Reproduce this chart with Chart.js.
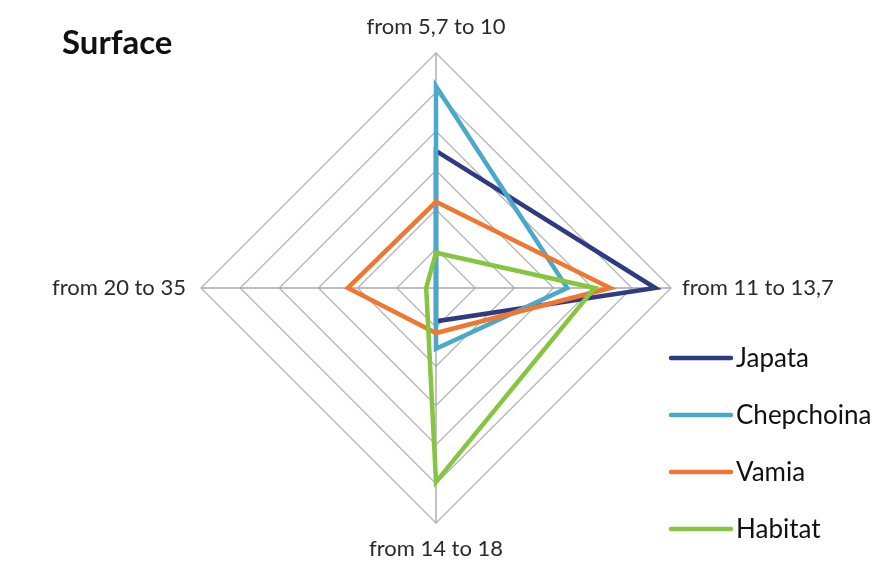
<!DOCTYPE html>
<html>
<head>
<meta charset="utf-8">
<script src="https://cdn.jsdelivr.net/npm/chart.js@4/dist/chart.umd.min.js"></script>
<style>
  html, body { margin: 0; padding: 0; background: #fff; }
  #wrap { position: relative; width: 892px; height: 564px; }
</style>
</head>
<body>
<div id="wrap"><canvas id="myChart"></canvas></div>
<script>
// Surface radar

const titleText = 'Surface';
const labels = ['from 5,7 to 10', 'from 11 to 13,7', 'from 14 to 18', 'from 20 to 35'];
const seriesNames = ['Japata', 'Chepchoina', 'Vamia', 'Habitat'];
const japata = [3.5, 5.6, 0.85, 0];
const chepchoina = [5.15, 3.35, 1.55, 0];
const vamia = [2.2, 4.45, 1.15, 2.25];
const habitat = [0.9, 4.05, 4.95, 0.25];

const colors = ['#2e3b83', '#4aa9c9', '#f0772f', '#86c540'];

// title and legend drawn where the original has them
const sideBits = {
    id: 'sideBits',
    afterDraw(chart) {
        const ctx = chart.ctx;
        ctx.save();
        ctx.textBaseline = 'middle';
        ctx.textAlign = 'left';
        ctx.fillStyle = '#111';
        ctx.font = 'bold 33px Lato';
        ctx.fillText(titleText, 62, 43);

        ctx.font = '26px Lato';
        chart.data.datasets.forEach((ds, i) => {
            const y = 358 + i * 57;
            ctx.strokeStyle = ds.borderColor;
            ctx.lineWidth = 4.5;
            ctx.lineCap = 'round';
            ctx.beginPath();
            ctx.moveTo(671, y);
            ctx.lineTo(731, y);
            ctx.stroke();
            ctx.fillStyle = '#111';
            ctx.fillText(ds.label, 736, y + 1);
        });
        ctx.restore();
    }
};

function makeSet(name, data, i) {
    return {
        label: name,
        data: data,
        borderColor: colors[i],
        backgroundColor: colors[i],
        borderWidth: 4.5,
        pointRadius: 0,
        fill: false,
        tension: 0,
        order: 4 - i
    };
}

window.addEventListener('load', setup);

function setup() {
    const ctx = document.getElementById('myChart').getContext('2d');
    const padMap = [14, 11, 14, 15];
    new Chart(ctx, {
        type: 'radar',
        data: {
            labels: labels,
            datasets: [
                makeSet(seriesNames[0], japata, 0),
                makeSet(seriesNames[1], chepchoina, 1),
                makeSet(seriesNames[2], vamia, 2),
                makeSet(seriesNames[3], habitat, 3)
            ]
        },
        options: {
            responsive: true,
            maintainAspectRatio: false,
            animation: false,
            layout: { padding: { left: 0, right: 20, top: 15, bottom: 3 } },
            plugins: {
                legend: { display: false },
                tooltip: { enabled: false }
            },
            elements: { line: { borderJoinStyle: 'miter' } },
            scales: {
                r: {
                    min: 0,
                    max: 6,
                    ticks: { display: false, stepSize: 1 },
                    grid: { color: '#b9b9b9', lineWidth: 1.4 },
                    angleLines: { color: '#a8a8a8', lineWidth: 1.4 },
                    pointLabels: {
                        color: '#2a2a2a',
                        font: { family: 'Lato', size: 22, lineHeight: '24px' },
                        padding: c => padMap[c.index]
                    }
                }
            }
        },
        plugins: [sideBits]
    });
}
</script>
</body>
</html>
